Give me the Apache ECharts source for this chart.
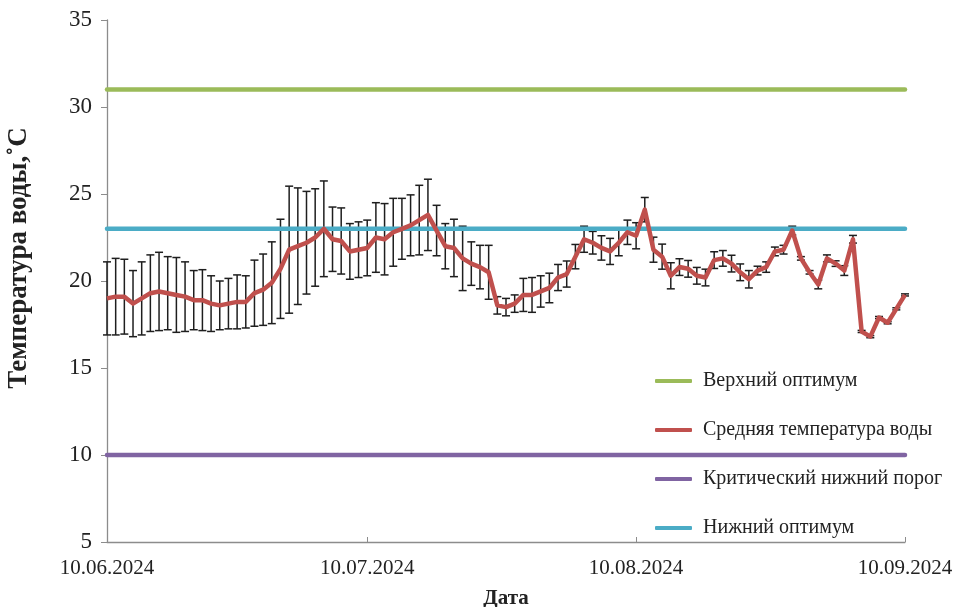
<!DOCTYPE html>
<html><head><meta charset="utf-8">
<script src="https://cdn.jsdelivr.net/npm/echarts@6/dist/echarts.min.js"></script>
<style>html,body{margin:0;padding:0;background:#fff}#c{width:962px;height:607px}</style>
</head><body><div id="c"></div>
<script>
// Daily dates 10.06.2024 .. 10.09.2024
const startDate = Date.UTC(2024, 5, 10);
const dayCount = 93;
const dates = [];
for (let i = 0; i < dayCount; i++) {
  const d = new Date(startDate + i * 86400000);
  const dd = String(d.getUTCDate()).padStart(2, '0');
  const mm = String(d.getUTCMonth() + 1).padStart(2, '0');
  dates.push(dd + '.' + mm + '.' + d.getUTCFullYear());
}
const meanTemp = [
19.0, 19.1, 19.1, 18.7, 19.0, 19.3, 19.4, 19.3, 19.2, 19.1,
18.9, 18.9, 18.7, 18.6, 18.7, 18.8, 18.8, 19.3, 19.5, 19.9,
20.7, 21.8, 22.0, 22.2, 22.5, 23.0, 22.4, 22.3, 21.7, 21.8,
21.9, 22.5, 22.4, 22.8, 23.0, 23.2, 23.5, 23.8, 22.9, 22.0,
21.9, 21.3, 21.0, 20.8, 20.5, 18.6, 18.5, 18.7, 19.2, 19.2,
19.4, 19.6, 20.2, 20.4, 21.4, 22.4, 22.2, 21.9, 21.7, 22.2,
22.8, 22.6, 24.1, 21.8, 21.4, 20.3, 20.8, 20.7, 20.3, 20.2,
21.2, 21.3, 21.0, 20.5, 20.1, 20.6, 20.8, 21.7, 21.8, 22.9,
21.3, 20.5, 19.8, 21.3, 21.0, 20.6, 22.4, 17.1, 16.8, 17.9,
17.6, 18.4, 19.2
];
const errTemp = [
2.1, 2.2, 2.15, 1.9, 2.1, 2.2, 2.25, 2.1, 2.15, 2.0,
1.7, 1.75, 1.6, 1.4, 1.45, 1.55, 1.5, 1.9, 2.05, 2.35,
2.85, 3.65, 3.35, 2.95, 2.8, 2.75, 1.85, 1.9, 1.6, 1.6,
1.6, 2.0, 2.05, 1.95, 1.75, 1.75, 2.0, 2.05, 1.45, 1.3,
1.65, 1.85, 1.25, 1.25, 1.55, 0.5, 0.5, 0.5, 0.95, 1.0,
0.9, 0.85, 0.75, 0.75, 0.7, 0.75, 0.65, 0.7, 0.75, 0.75,
0.7, 0.75, 0.7, 0.72, 0.72, 0.75, 0.48, 0.48, 0.48, 0.48,
0.48, 0.45, 0.48, 0.48, 0.5, 0.25, 0.3, 0.25, 0.25, 0.25,
0.1, 0.1, 0.25, 0.2, 0.16, 0.28, 0.22, 0.06, 0.06, 0.06,
0.06, 0.06, 0.06
];
const upperOptimum = 31;
const lowerOptimum = 23;
const criticalLow = 10;
const seriesNames = ['Верхний оптимум', 'Средняя температура воды', 'Критический нижний порог', 'Нижний оптимум'];
const yTicks = { min: 5, max: 35, step: 5 };
const yTitle = 'Температура воды,˚С';
const xTitle = 'Дата';

const FONT = 'Liberation Serif';
const first = dates[0], last = dates[dates.length - 1];
const errData = meanTemp.map((m, i) => [i, m - errTemp[i], m + errTemp[i]]);

const chart = echarts.init(document.getElementById('c'));
chart.setOption({
  animation: false,
  backgroundColor: '#fff',
  grid: { left: 107, right: 57, top: 20, bottom: 65, containLabel: false, outerBoundsMode: 'none' },
  graphic: [{
    type: 'text', x: 19, y: 258, rotation: Math.PI / 2,
    style: { text: yTitle, fontFamily: FONT, fontSize: 27, fontWeight: 'bold', fill: '#222',
      align: 'center', verticalAlign: 'middle' }
  }],
  legend: {
    orient: 'vertical', left: 655, top: 371, padding: 0,
    data: seriesNames,
    icon: 'roundRect', itemWidth: 37, itemHeight: 4, itemGap: 29,
    textStyle: { fontFamily: FONT, fontSize: 20, color: '#222', lineHeight: 20, padding: [0, 0, 0, 6] }
  },
  xAxis: {
    type: 'category', data: dates, boundaryGap: false,
    name: xTitle, nameLocation: 'middle', nameGap: 46, nameMoveOverlap: false,
    nameTextStyle: { fontFamily: FONT, fontSize: 21, fontWeight: 'bold', color: '#222' },
    axisLine: { lineStyle: { color: '#8c8c8c', width: 1.3 } },
    axisTick: { inside: true, length: 5, interval: (i, v) => v.startsWith('10.'), lineStyle: { color: '#8c8c8c' } },
    axisLabel: { interval: (i, v) => v.startsWith('10.'), fontFamily: FONT, fontSize: 21, color: '#222', margin: 16 },
    splitLine: { show: false }
  },
  yAxis: {
    type: 'value', min: yTicks.min, max: yTicks.max, interval: yTicks.step,
    axisLine: { show: true, lineStyle: { color: '#8c8c8c', width: 1.3 } },
    axisTick: { show: true, length: 6, lineStyle: { color: '#8c8c8c' } },
    axisLabel: { fontFamily: FONT, fontSize: 23, color: '#222', margin: 15 },
    splitLine: { show: false }
  },
  series: [
    {
      name: 'errorbars', type: 'custom', z: 1, data: errData,
      renderItem: (params, api) => {
        const idx = api.value(0);
        const lo = api.coord([idx, api.value(1)]);
        const hi = api.coord([idx, api.value(2)]);
        const w = 4;
        const st = { stroke: '#1e1e1e', lineWidth: 1.5 };
        return { type: 'group', children: [
          { type: 'line', shape: { x1: lo[0], y1: lo[1], x2: hi[0], y2: hi[1] }, style: st },
          { type: 'line', shape: { x1: lo[0] - w, y1: lo[1], x2: lo[0] + w, y2: lo[1] }, style: st },
          { type: 'line', shape: { x1: hi[0] - w, y1: hi[1], x2: hi[0] + w, y2: hi[1] }, style: st }
        ]};
      }
    },
    { name: seriesNames[0], type: 'line', z: 2, symbol: 'none', color: '#9bbb59',
      lineStyle: { width: 4.5, cap: 'round', color: '#9bbb59' }, data: [[first, upperOptimum], [last, upperOptimum]] },
    { name: seriesNames[2], type: 'line', z: 2, symbol: 'none', color: '#8064a2',
      lineStyle: { width: 4.5, cap: 'round', color: '#8064a2' }, data: [[first, criticalLow], [last, criticalLow]] },
    { name: seriesNames[3], type: 'line', z: 2, symbol: 'none', color: '#4bacc6',
      lineStyle: { width: 4.5, cap: 'round', color: '#4bacc6' }, data: [[first, lowerOptimum], [last, lowerOptimum]] },
    { name: seriesNames[1], type: 'line', z: 3, symbol: 'none', color: '#c0504d',
      lineStyle: { width: 4.5, join: 'round', color: '#c0504d' }, data: meanTemp }
  ]
});
</script>
</body></html>
